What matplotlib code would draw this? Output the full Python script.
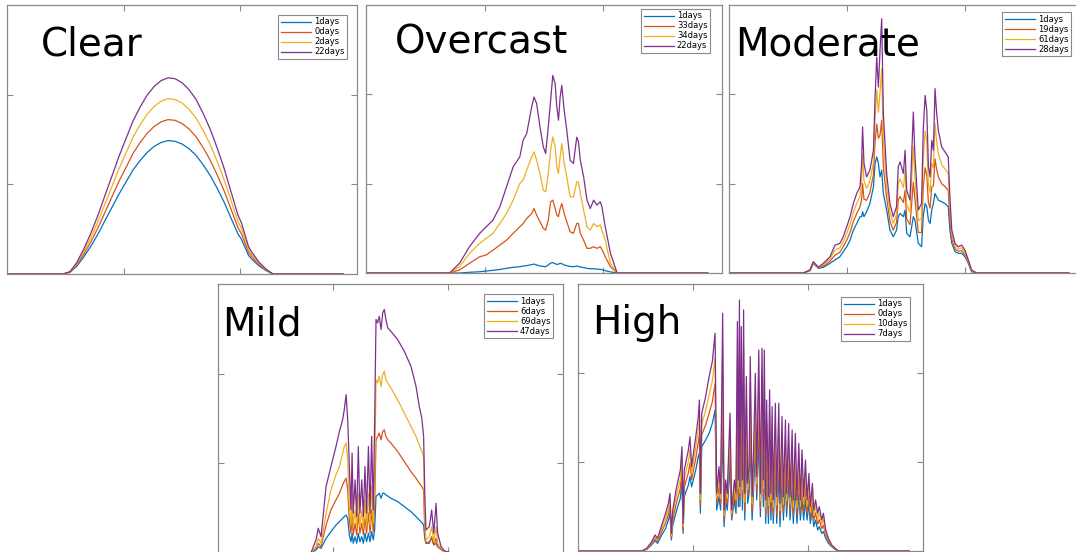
import matplotlib
matplotlib.use("Agg")
import matplotlib.pyplot as plt

# time of day in minutes, irradiance-like values (same scale for every panel)
clear_t = [0, 240, 270, 300, 330, 360, 390, 420, 450, 480, 510, 540, 570, 600, 630, 660, 690,
           720, 750, 780, 810, 840, 870, 900, 930, 960, 990, 1005, 1020, 1035, 1050, 1080, 1110, 1140, 1440]
clear_labels = ["1days", "0days", "2days", "22days"]
clear_a = [0, 0, 9, 45, 97, 156, 223, 298, 372, 446, 513, 580, 632, 677, 711, 733, 744, 740, 725, 699,
           662, 610, 551, 480, 402, 312, 223, 193, 149, 104, 82, 45, 19, 0, 0]
clear_b = [0, 0, 10, 52, 112, 181, 258, 344, 431, 517, 594, 672, 732, 784, 822, 848, 861, 857, 839, 809,
           766, 706, 637, 555, 465, 362, 258, 224, 172, 121, 95, 52, 22, 0, 0]
clear_c = [0, 0, 12, 59, 127, 205, 293, 391, 489, 587, 675, 763, 831, 890, 934, 963, 978, 973, 954, 919,
           870, 802, 724, 631, 528, 411, 293, 254, 196, 137, 108, 59, 24, 0, 0]
clear_d = [0, 0, 13, 66, 142, 230, 328, 438, 547, 656, 755, 853, 930, 996, 1045, 1078, 1094, 1089, 1067, 1028,
           974, 897, 810, 706, 591, 459, 328, 284, 219, 153, 120, 66, 27, 0, 0]

over_t = [0, 352, 394, 436, 479, 507, 535, 564, 592, 620, 648, 662, 677, 698, 708, 719, 733, 747, 757, 768,
          778, 787, 797, 804, 811, 818, 825, 835, 846, 860, 874, 888, 895, 903, 917, 931, 945, 959, 973, 987,
          994, 1008, 1030, 1058, 1440]
over_labels = ["1days", "33days", "34days", "22days"]
over_a = [0, 0, 0, 4, 7, 11, 15, 20, 26, 32, 35, 39, 41, 47, 50, 45, 39, 37, 35, 45, 56,
          58, 52, 48, 50, 54, 52, 45, 41, 37, 35, 39, 37, 34, 30, 26, 24, 24, 22, 20, 19, 13, 6, 0, 0]
over_b = [0, 0, 17, 54, 91, 101, 128, 156, 184, 222, 259, 277, 305, 333, 361, 324, 287, 250, 240, 296, 399,
          408, 361, 324, 315, 361, 389, 333, 287, 231, 222, 277, 277, 222, 184, 138, 138, 147, 138, 147, 132,
          91, 35, 0, 0]
over_c = [0, 0, 35, 110, 166, 194, 222, 277, 333, 408, 501, 520, 575, 650, 678, 631, 557, 464, 454, 557, 687,
          762, 706, 594, 557, 650, 724, 613, 538, 426, 426, 510, 510, 445, 352, 259, 240, 277, 259, 268, 240,
          184, 54, 0, 0]
over_d = [0, 0, 54, 147, 222, 259, 296, 371, 482, 594, 650, 743, 780, 929, 985, 948, 818, 706, 669, 818, 966,
          1106, 1060, 929, 855, 985, 1050, 911, 799, 631, 613, 760, 735, 631, 538, 408, 361, 408, 380, 399, 371,
          259, 110, 0, 0]

mod_t = [0, 315, 343, 357, 379, 400, 428, 449, 470, 484, 499, 513, 527, 541, 555, 562, 566, 572, 583, 597,
         612, 619, 626, 633, 640, 647, 654, 668, 682, 696, 710, 717, 725, 739, 746, 753, 767, 781, 788, 802,
         816, 823, 831, 838, 845, 852, 859, 866, 873, 880, 887, 901, 915, 929, 936, 944, 958, 972, 986, 1000,
         1014, 1028, 1049, 1440]
mod_labels = ["1days", "19days", "61days", "28days"]
mod_a = [0, 0, 13, 54, 26, 32, 54, 73, 91, 119, 147, 184, 240, 277, 315, 315, 343, 315, 343, 389, 482,
         613, 650, 613, 538, 575, 445, 352, 240, 203, 240, 315, 333, 315, 352, 222, 203, 315, 296, 166, 147,
         315, 389, 371, 296, 277, 352, 389, 445, 426, 408, 399, 389, 371, 240, 166, 119, 110, 110, 91, 54,
         7, 0, 0]
mod_b = [0, 0, 14, 57, 28, 39, 66, 100, 116, 147, 184, 227, 289, 332, 370, 413, 500, 413, 407, 450, 550,
         736, 834, 754, 772, 855, 593, 420, 289, 240, 283, 407, 428, 395, 463, 302, 271, 508, 413, 227, 227,
         475, 589, 549, 394, 363, 481, 487, 639, 580, 537, 500, 484, 463, 301, 190, 134, 122, 125, 103, 60,
         10, 0, 0]
mod_c = [0, 0, 16, 60, 30, 47, 79, 129, 141, 175, 222, 272, 340, 390, 427, 515, 661, 515, 474, 514, 619,
         862, 1025, 900, 1012, 1143, 744, 489, 340, 278, 328, 502, 527, 477, 576, 384, 340, 708, 533, 291, 309,
         639, 794, 733, 496, 452, 614, 589, 838, 738, 670, 605, 583, 558, 365, 216, 149, 135, 141, 116, 67,
         14, 0, 0]
mod_d = [0, 0, 17, 63, 32, 54, 91, 156, 166, 203, 259, 315, 389, 445, 482, 613, 818, 613, 538, 575, 687,
         985, 1209, 1041, 1246, 1423, 892, 557, 389, 315, 371, 594, 622, 557, 687, 464, 408, 901, 650, 352, 389,
         799, 994, 911, 594, 538, 743, 687, 1032, 892, 799, 706, 678, 650, 426, 240, 164, 147, 156, 128, 73,
         17, 0, 0]

mild_t = [0, 404, 426, 436, 448, 470, 491, 513, 528, 542, 549, 557, 564, 571, 578, 583, 588, 596, 603, 610,
          617, 625, 632, 639, 646, 654, 661, 668, 675, 681, 687, 694, 701, 709, 716, 723, 730, 738, 752, 781,
          810, 839, 861, 875, 886, 894, 899, 904, 919, 929, 938, 948, 955, 970, 984, 1013, 1440]
mild_labels = ["1days", "6days", "69days", "47days"]
mild_a = [0, 0, 17, 35, 26, 82, 119, 156, 175, 194, 203, 212, 194, 101, 63, 110, 54, 91, 54, 110, 63,
          91, 54, 110, 63, 110, 63, 119, 73, 128, 315, 324, 333, 305, 333, 333, 324, 318, 305, 287, 259,
          231, 203, 184, 170, 156, 82, 54, 63, 82, 45, 54, 35, 20, 7, 0, 0]
mild_b = [0, 0, 26, 54, 35, 156, 240, 296, 333, 380, 399, 417, 352, 184, 110, 222, 101, 166, 101, 222, 110,
          166, 101, 194, 110, 222, 110, 240, 119, 259, 631, 650, 669, 631, 678, 687, 650, 631, 613, 566, 510,
          454, 417, 389, 371, 352, 110, 54, 54, 91, 45, 82, 35, 20, 7, 0, 0]
mild_c = [0, 0, 35, 82, 54, 222, 352, 436, 482, 557, 594, 613, 520, 259, 156, 333, 147, 240, 138, 333, 147,
          240, 138, 296, 147, 333, 156, 371, 166, 408, 967, 948, 985, 929, 995, 1013, 967, 948, 920, 855, 780,
          706, 650, 603, 566, 538, 184, 73, 91, 147, 63, 147, 54, 26, 9, 0, 0]
mild_d = [0, 0, 73, 138, 91, 371, 482, 594, 678, 743, 799, 883, 743, 482, 240, 557, 222, 408, 203, 594, 222,
          408, 203, 482, 222, 594, 222, 650, 240, 724, 1302, 1283, 1320, 1246, 1339, 1358, 1302, 1255, 1236, 1190, 1125,
          1041, 929, 818, 752, 650, 333, 128, 147, 240, 110, 277, 110, 35, 13, 0, 0]

high_t = [0, 277, 299, 320, 335, 346, 364, 381, 393, 400, 406, 412, 429, 445, 452, 457, 462, 480, 487, 494, 512,
          523, 528, 532, 538, 555, 570, 584, 596, 603, 613, 620, 629, 635, 642, 649, 661, 668, 680, 687, 693,
          697, 702, 704, 710, 715, 720, 725, 732, 738, 744, 749, 757, 764, 771, 777, 786, 793, 800, 806, 810,
          816, 820, 828, 833, 839, 844, 849, 858, 864, 873, 878, 887, 893, 902, 907, 916, 922, 931, 936, 945,
          952, 960, 967, 974, 981, 989, 996, 1004, 1010, 1019, 1025, 1033, 1042, 1049, 1060, 1067, 1077, 1089,
          1103, 1118, 1132, 1440]
high_labels = ["1days", "0days", "10days", "7days"]
high_a = [0, 0, 9, 34, 58, 43, 90, 127, 174, 212, 62, 146, 230, 296, 399, 99, 305, 371, 418, 361, 455,
          530, 549, 212, 586, 624, 661, 717, 792, 230, 305, 230, 680, 137, 287, 230, 474, 174, 287, 212, 680,
          249, 717, 249, 661, 230, 699, 174, 549, 268, 324, 624, 174, 361, 586, 287, 642, 193, 642, 249, 624,
          155, 474, 155, 511, 174, 455, 155, 474, 155, 455, 137, 418, 174, 399, 193, 399, 174, 380, 155, 361,
          155, 324, 174, 305, 174, 287, 174, 268, 155, 230, 137, 174, 118, 137, 99, 109, 71, 43, 24, 9, 0, 0]
high_b = [0, 0, 11, 40, 69, 53, 110, 157, 207, 251, 75, 175, 276, 352, 464, 119, 358, 440, 496, 401, 520,
          609, 654, 251, 652, 709, 773, 838, 943, 263, 364, 263, 909, 170, 326, 263, 579, 194, 326, 251, 893,
          302, 960, 288, 871, 289, 928, 227, 700, 307, 377, 788, 220, 440, 730, 333, 812, 239, 816, 302, 801,
          201, 605, 208, 649, 227, 580, 201, 599, 208, 586, 183, 536, 220, 517, 239, 510, 220, 485, 201, 466,
          201, 422, 214, 397, 220, 365, 214, 327, 188, 283, 170, 214, 151, 176, 125, 145, 87, 53, 28, 11, 0, 0]
high_c = [0, 0, 13, 46, 80, 62, 128, 185, 238, 288, 87, 203, 319, 404, 526, 137, 407, 505, 570, 438, 582,
          683, 752, 288, 714, 789, 878, 953, 1085, 294, 420, 294, 1125, 200, 363, 294, 678, 212, 363, 288, 1094,
          351, 1188, 325, 1069, 345, 1144, 276, 842, 344, 426, 942, 263, 514, 866, 376, 973, 282, 980, 351, 967,
          245, 728, 257, 779, 276, 697, 245, 716, 257, 710, 226, 647, 263, 628, 282, 615, 263, 584, 245, 565,
          245, 515, 251, 484, 263, 439, 251, 382, 219, 332, 200, 251, 182, 213, 150, 179, 103, 62, 31, 13, 0, 0]
high_d = [0, 0, 15, 52, 90, 71, 146, 212, 268, 324, 99, 230, 361, 455, 586, 155, 455, 568, 642, 474, 642,
          755, 848, 324, 774, 867, 980, 1064, 1223, 324, 474, 324, 1335, 230, 399, 324, 774, 230, 399, 324, 1289,
          399, 1410, 361, 1261, 399, 1354, 324, 980, 380, 474, 1092, 305, 586, 998, 418, 1129, 324, 1139, 399, 1129,
          287, 848, 305, 905, 324, 811, 287, 830, 305, 830, 268, 755, 305, 736, 324, 717, 305, 680, 287, 661,
          287, 605, 287, 568, 305, 511, 287, 436, 249, 380, 230, 287, 212, 249, 174, 212, 118, 71, 34, 15, 0, 0]

W, H = 1076, 552
colors = ["#0072BD", "#D95319", "#EDB120", "#7E2F8E"]
frame = "#8a8a8a"

fig = plt.figure(figsize=(W / 100, H / 100), dpi=100)
fig.patch.set_facecolor("white")


def panel(box, t, series, labels, title, title_at, legend_at):
    # box = (left, top, right, bottom) in figure pixels
    left, top, right, bottom = box
    ax = fig.add_axes([left / W, 1 - bottom / H, (right - left) / W, (bottom - top) / H])
    for vals, c, lab in zip(series, colors, labels):
        ax.plot(t, vals, color=c, lw=0.9, label=lab)
    ax.set_xlim(0, 1500)
    ax.set_ylim(0, 1500)
    ax.set_xticks([500, 1000])
    ax.set_yticks([500, 1000])
    ax.tick_params(direction="in", length=4, width=0.8, color=frame,
                   top=True, right=True, labelbottom=False, labelleft=False)
    for s in ax.spines.values():
        s.set_color(frame)
        s.set_linewidth(0.9)
    leg = ax.legend(loc="upper right", bbox_to_anchor=(legend_at[0] / W, 1 - legend_at[1] / H),
                    bbox_transform=fig.transFigure, fontsize=6, handlelength=3.6,
                    handletextpad=0.4, labelspacing=0.12, borderpad=0.3, borderaxespad=0,
                    fancybox=False, framealpha=1)
    leg.get_frame().set_edgecolor(frame)
    leg.get_frame().set_linewidth(0.8)
    fig.text(title_at[0] / W, 1 - title_at[1] / H, title, fontsize=28,
             family="DejaVu Sans", ha="left", va="baseline", color="black")
    return ax


panel((7, 5, 357, 274), clear_t, [clear_a, clear_b, clear_c, clear_d], clear_labels,
      "Clear", (41, 55), (347, 15))
panel((366, 5, 722, 273), over_t, [over_a, over_b, over_c, over_d], over_labels,
      "Overcast", (395, 54), (710, 9))
panel((729, 5, 1083, 273), mod_t, [mod_a, mod_b, mod_c, mod_d], mod_labels,
      "Moderate", (735, 55), (1071, 12))
panel((218, 284, 563, 553), mild_t, [mild_a, mild_b, mild_c, mild_d], mild_labels,
      "Mild", (222, 335), (553, 294))
panel((578, 284, 923, 551), high_t, [high_a, high_b, high_c, high_d], high_labels,
      "High", (592, 334), (910, 297))

fig.savefig("out.png", dpi=100)
